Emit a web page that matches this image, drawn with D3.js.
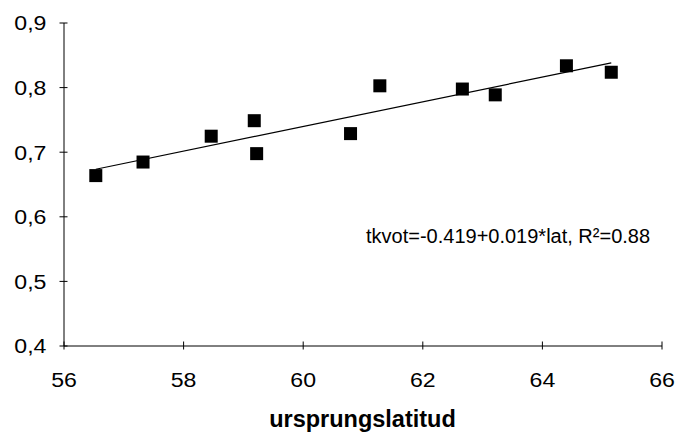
<!DOCTYPE html>
<html>
<head>
<meta charset="utf-8">
<script src="https://cdn.jsdelivr.net/npm/d3@7"></script>
<style>
  body { margin: 0; background: #fff; }
  svg { display: block; font-family: Arial, "Liberation Sans", sans-serif; }
</style>
</head>
<body>
<svg id="chart"></svg>
<script>
var lat = [56.54, 57.33, 58.47, 59.19, 59.23, 60.80, 61.29, 62.67, 63.22, 64.41, 65.16]
var tkvot = [0.663, 0.684, 0.724, 0.748, 0.697, 0.728, 0.802, 0.797, 0.788, 0.833, 0.823]
var xTicks = [56, 58, 60, 62, 64, 66]
var yTicks = [0.4, 0.5, 0.6, 0.7, 0.8, 0.9]
var eqLabel = 'tkvot=-0.419+0.019*lat, R²=0.88'
var xTitle = 'ursprungslatitud'

var w = 676
var h = 434
var svg = d3.select('#chart').attr('width', w).attr('height', h)

var x = d3.scaleLinear().domain([56, 66]).range([63.5, 661.5])
var y = d3.scaleLinear().domain([0.4, 0.9]).range([345.5, 22.5])

var comma = d => d3.format('.1f')(d).replace('.', ',')

// y axis, ticks cross the line
var gy = svg.append('g')
    .attr('transform', 'translate(' + x.range()[0] + ',0)')
    .call(d3.axisLeft(y).tickValues(yTicks).tickFormat(comma).tickSizeOuter(0))
gy.select('.domain').attr('stroke', '#000')
gy.selectAll('.tick line').attr('x1', -4).attr('x2', 4).attr('stroke', '#000')
gy.selectAll('.tick text')
    .attr('x', -15.5)
    .attr('dy', '0.35em')
    .style('font-size', '21px')
    .style('fill', '#000')
    .attr('transform', 'scale(1.1,1)')
    .style('font-family', 'Arial, "Liberation Sans", sans-serif')

// x axis
var gx = svg.append('g')
    .attr('transform', 'translate(0,' + y.range()[0] + ')')
    .call(d3.axisBottom(x).tickValues(xTicks).tickSizeOuter(0))
gx.select('.domain').attr('stroke', '#000')
gx.selectAll('.tick line').attr('y1', -4).attr('y2', 4).attr('stroke', '#000')
gx.selectAll('.tick text')
    .attr('y', 42)
    .attr('dy', 0)
    .style('font-size', '21px')
    .style('fill', '#000')
    .attr('transform', 'scale(1.1,1)')
    .style('font-family', 'Arial, "Liberation Sans", sans-serif')

// regression line over the data range
var mx = d3.mean(lat)
var my = d3.mean(tkvot)
var slope = d3.sum(lat, (v, i) => (v - mx) * (tkvot[i] - my)) / d3.sum(lat, v => (v - mx) * (v - mx))
var icpt = my - slope * mx
var xr = d3.extent(lat)
svg.append('line')
    .attr('x1', x(xr[0])).attr('y1', y(icpt + slope * xr[0]))
    .attr('x2', x(xr[1])).attr('y2', y(icpt + slope * xr[1]))
    .attr('stroke', '#000')
    .attr('stroke-width', 1.2)

// points
var s = 13
svg.append('g').selectAll('rect')
    .data(lat)
    .join('rect')
    .attr('x', (d, i) => x(d) - s / 2)
    .attr('y', (d, i) => y(tkvot[i]) - s / 2)
    .attr('width', s)
    .attr('height', s)
    .attr('fill', '#000')

svg.append('text')
    .attr('x', 366)
    .attr('y', 243)
    .style('font-size', '20px')
    .text(eqLabel)

svg.append('text')
    .attr('x', (x.range()[0] + x.range()[1]) / 2)
    .attr('y', 427)
    .attr('text-anchor', 'middle')
    .style('font-size', '23.5px')
    .style('font-weight', 'bold')
    .text(xTitle)
</script>
</body>
</html>
